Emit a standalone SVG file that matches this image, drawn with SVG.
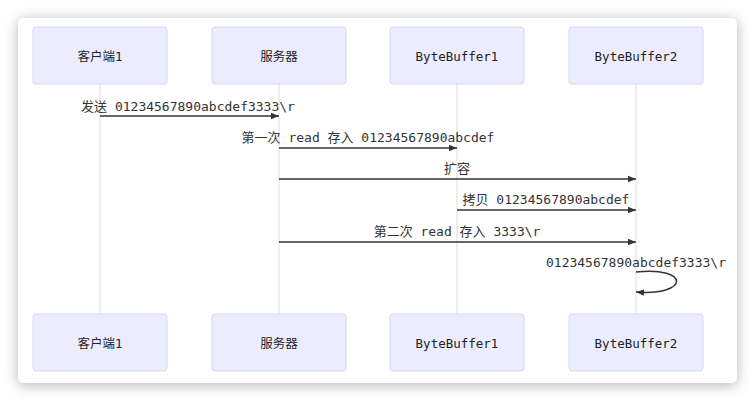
<svg xmlns="http://www.w3.org/2000/svg" width="755" height="401" viewBox="0 0 755 401">
  <defs>
    <filter id="shadow" x="-10%" y="-10%" width="120%" height="120%">
      <feGaussianBlur in="SourceAlpha" stdDeviation="7"/>
      <feOffset dx="0" dy="2" result="b"/>
      <feComponentTransfer><feFuncA type="linear" slope="0.3"/></feComponentTransfer>
      <feMerge><feMergeNode/><feMergeNode in="SourceGraphic"/></feMerge>
    </filter>
    <marker id="arrow" viewBox="0 0 10 10" refX="10" refY="5" markerWidth="8" markerHeight="8" markerUnits="userSpaceOnUse" orient="auto">
      <path d="M0,1 L10,5 L0,9 Z" fill="#333"/>
    </marker>
  </defs>
  <style>
    .actor { fill: #ECECFF; stroke: #D6D6F5; stroke-width: 1; }
    .atext { font-family: "DejaVu Sans Mono", "Noto Sans CJK SC", monospace; font-size: 12.5px; fill: #222; text-anchor: middle; dominant-baseline: central; }
    .life { stroke: #DDDDDD; stroke-width: 1; }
    .msg { stroke: #333; stroke-width: 1.5; fill: none; }
    .mtext { font-family: "DejaVu Sans Mono", "Noto Sans CJK SC", monospace; font-size: 13px; fill: #333; text-anchor: middle; dominant-baseline: central; }
  </style>
  <rect x="0" y="0" width="755" height="401" fill="#ffffff"/>
  <rect x="18" y="18" width="719" height="365" rx="6" fill="#ffffff" filter="url(#shadow)"/>

  <g id="lifelines">
    <line class="life" x1="100" y1="84" x2="100" y2="314"/>
    <line class="life" x1="279" y1="84" x2="279" y2="314"/>
    <line class="life" x1="457" y1="84" x2="457" y2="314"/>
    <line class="life" x1="636" y1="84" x2="636" y2="314"/>
  </g>

  <g id="client-top"><rect class="actor" x="33" y="27" width="134" height="57" rx="3"/><text class="atext" x="100" y="56">客户端1</text></g>
  <g id="server-top"><rect class="actor" x="212" y="27" width="134" height="57" rx="3"/><text class="atext" x="279" y="56">服务器</text></g>
  <g id="bb1-top"><rect class="actor" x="390" y="27" width="134" height="57" rx="3"/><text class="atext" x="457" y="56">ByteBuffer1</text></g>
  <g id="bb2-top"><rect class="actor" x="569" y="27" width="134" height="57" rx="3"/><text class="atext" x="636" y="56">ByteBuffer2</text></g>

  <g id="client-bottom"><rect class="actor" x="33" y="314" width="134" height="57" rx="3"/><text class="atext" x="100" y="343">客户端1</text></g>
  <g id="server-bottom"><rect class="actor" x="212" y="314" width="134" height="57" rx="3"/><text class="atext" x="279" y="343">服务器</text></g>
  <g id="bb1-bottom"><rect class="actor" x="390" y="314" width="134" height="57" rx="3"/><text class="atext" x="457" y="343">ByteBuffer1</text></g>
  <g id="bb2-bottom"><rect class="actor" x="569" y="314" width="134" height="57" rx="3"/><text class="atext" x="636" y="343">ByteBuffer2</text></g>

  <g id="connectors">
    <line class="msg" x1="100" y1="116" x2="279" y2="116" marker-end="url(#arrow)"/>
    <text class="mtext" x="188" y="106">发送 01234567890abcdef3333\r</text>

    <line class="msg" x1="279" y1="148" x2="457" y2="148" marker-end="url(#arrow)"/>
    <text class="mtext" x="368" y="137">第一次 read 存入 01234567890abcdef</text>

    <line class="msg" x1="279" y1="179" x2="636" y2="179" marker-end="url(#arrow)"/>
    <text class="mtext" x="457" y="168">扩容</text>

    <line class="msg" x1="457" y1="210" x2="636" y2="210" marker-end="url(#arrow)"/>
    <text class="mtext" x="546" y="199">拷贝 01234567890abcdef</text>

    <line class="msg" x1="279" y1="242" x2="636" y2="242" marker-end="url(#arrow)"/>
    <text class="mtext" x="457" y="231">第二次 read 存入 3333\r</text>

    <path class="msg" d="M636,272 C690,266 690,296 636,292" marker-end="url(#arrow)"/>
    <text class="mtext" x="636" y="262">01234567890abcdef3333\r</text>
  </g>
</svg>
